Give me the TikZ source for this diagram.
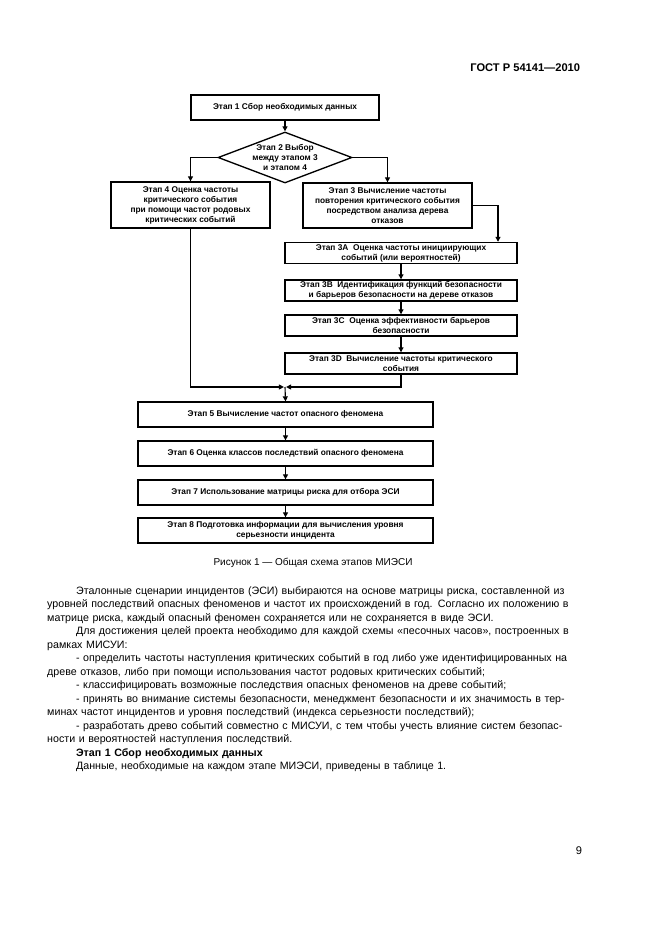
\documentclass[tikz,border=0pt]{standalone}
\usepackage{fontspec}
\setmainfont{Liberation Sans}
\usetikzlibrary{shapes.geometric,arrows.meta}

\begin{document}
\begin{tikzpicture}
	[x=0.9pt,y=-0.9pt,
	 stage/.style={rectangle,draw,line width=1.2pt,align=center,inner sep=1pt,font=\fontsize{7.5}{9}\selectfont\bfseries},
	 choice/.style={diamond,draw,line width=1.2pt,inner sep=0pt,minimum width=120.6pt,minimum height=45.9pt},
	 link/.style={line width=1pt,-{Triangle[length=4.5pt,width=4.5pt]}}]
    \useasboundingbox (0,0) rectangle (661,935);
    \fill[white] (0,0) rectangle (661,935);

    \node[anchor=east,font=\fontsize{10}{12}\selectfont\bfseries] (head) at (584,68) {ГОСТ Р 54141—2010};

    \node[stage,minimum width=169pt,minimum height=22.5pt] (s1) at (285,107.5) {Этап 1 Сбор необходимых данных};
    \node[choice] (s2) at (285,157.5) {};
    \node[align=center,inner sep=0pt,font=\fontsize{7.5}{9}\selectfont\bfseries] (s2text) at (285,157.5) {Этап 2 Выбор\\между этапом 3\\и этапом 4};
    \node[stage,minimum width=143pt,minimum height=41.4pt] (s4) at (190.5,205) {Этап 4 Оценка частоты\\критического события\\при помощи частот родовых\\критических событий};
    \node[stage,minimum width=152pt,minimum height=40.5pt] (s3) at (387.5,205.5) {Этап 3 Вычисление частоты\\повторения критического события\\посредством анализа дерева\\отказов};
    \node[stage,minimum width=209pt,minimum height=19pt] (s3a) at (401,253) {Этап 3A\ \ Оценка частоты инициирующих\\событий (или вероятностей)};
    \node[stage,minimum width=209pt,minimum height=19pt] (s3b) at (401,290.5) {Этап 3B\ \ Идентификация функций безопасности\\и барьеров безопасности на дереве отказов};
    \node[stage,minimum width=209pt,minimum height=19pt] (s3c) at (401,325.5) {Этап 3C\ \ Оценка эффективности барьеров\\безопасности};
    \node[stage,minimum width=209pt,minimum height=19pt] (s3d) at (401,363.5) {Этап 3D\ \ Вычисление частоты критического\\события};
    \coordinate (turn) at (498,0);
    \coordinate (merge) at (285,387);
    \node[stage,minimum width=265.5pt,minimum height=22.5pt] (s5) at (285.5,414.5) {Этап 5 Вычисление частот опасного феномена};
    \node[stage,minimum width=265.5pt,minimum height=22.5pt] (s6) at (285.5,453.5) {Этап 6 Оценка классов последствий опасного феномена};
    \node[stage,minimum width=265.5pt,minimum height=22.5pt] (s7) at (285.5,492.5) {Этап 7 Использование матрицы риска для отбора ЭСИ};
    \node[stage,minimum width=265.5pt,minimum height=22.5pt] (s8) at (285.5,530.5) {Этап 8 Подготовка информации для вычисления уровня\\серьезности инцидента};

    \draw[link] (s1.south) -- (s2.north);
    \draw[link] (s2.west) -| (s4.north);
    \draw[link] (s2.east) -| (s3.north);
    \draw[link] (s3.east) -| (turn |- s3a.north);
    \draw[link] (s3a) -- (s3b);
    \draw[link] (s3b) -- (s3c);
    \draw[link] (s3c) -- (s3d);
    \draw[link,shorten >=1pt] (s3d.south) |- (merge);
    \draw[link,shorten >=1pt] (s4.south) |- (merge);
    \draw[link] (merge) -- (s5.north);
    \draw[link] (s5) -- (s6);
    \draw[link] (s6) -- (s7);
    \draw[link] (s7) -- (s8);

    \node[font=\fontsize{9}{11}\selectfont] (caption) at (313,563) {Рисунок 1 — Общая схема этапов МИЭСИ};

    \node[anchor=north west,text width=483pt,inner sep=0pt,font=\fontsize{9.6}{12.15}\selectfont] (body) at (47,586) {%
      \setlength{\parindent}{26pt}\tolerance=10000\hyphenpenalty=10000\hspace*{\parindent}%
      Эталонные сценарии инцидентов (ЭСИ) выбираются на основе матрицы риска, составленной из\linebreak
      уровней последствий опасных феноменов и частот их происхождений в год. Согласно их положению в\linebreak
      матрице риска, каждый опасный феномен сохраняется или не сохраняется в виде ЭСИ.\par
      Для достижения целей проекта необходимо для каждой схемы «песочных часов», построенных в\linebreak
      рамках МИСУИ:\par
      - определить частоты наступления критических событий в год либо уже идентифицированных на\linebreak
      древе отказов, либо при помощи использования частот родовых критических событий;\par
      - классифицировать возможные последствия опасных феноменов на древе событий;\par
      - принять во внимание системы безопасности, менеджмент безопасности и их значимость в тер-\linebreak
      минах частот инцидентов и уровня последствий (индекса серьезности последствий);\par
      - разработать древо событий совместно с МИСУИ, с тем чтобы учесть влияние систем безопас-\linebreak
      ности и вероятностей наступления последствий.\par
      {\bfseries Этап 1 Сбор необходимых данных}\par
      Данные, необходимые на каждом этапе МИЭСИ, приведены в таблице 1.};

    \node[font=\fontsize{10}{12}\selectfont] (page) at (579,851) {9};

\end{tikzpicture}
\end{document}
